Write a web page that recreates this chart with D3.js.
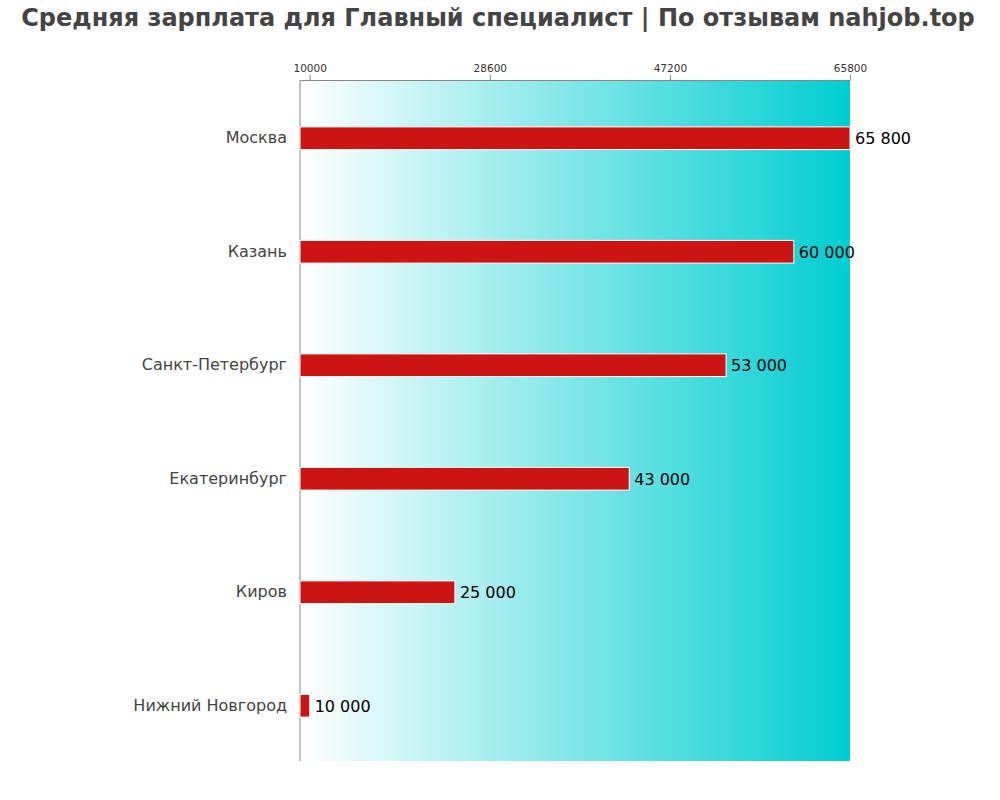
<!DOCTYPE html>
<html><head><meta charset="utf-8">
<script src="https://cdn.jsdelivr.net/npm/d3@7"></script>
<style>body{margin:0;background:#fff;} svg text{font-family:"DejaVu Sans";}</style>
</head><body>
<svg id="c" width="1000" height="800"></svg>
<script>
const title = "Средняя зарплата для Главный специалист | По отзывам nahjob.top";
const categories = ["Москва","Казань","Санкт-Петербург","Екатеринбург","Киров","Нижний Новгород"];
const values = [65800,60000,53000,43000,25000,10000];
const tickValues = [10000,28600,47200,65800];

const svg = d3.select("#c");
const pLeft=300, pRight=850, pTop=80, pBottom=761;
const x = d3.scaleLinear().domain([9000,65800]).range([pLeft,pRight]);
const y = d3.scaleBand().domain(categories).range([pTop+1.5,pBottom+1.5]).paddingInner(0.8).paddingOuter(0.4);

const defs = svg.append("defs");
const g = defs.append("linearGradient").attr("id","bg").attr("x1","0").attr("x2","1").attr("y1","0").attr("y2","0");
g.append("stop").attr("offset","0").attr("stop-color","#ffffff");
g.append("stop").attr("offset","1").attr("stop-color","#00ced1");

svg.append("rect").attr("x",pLeft).attr("y",pTop).attr("width",pRight-pLeft).attr("height",pBottom-pTop).attr("fill","url(#bg)");

svg.append("text").attr("x",498).attr("y",26).attr("text-anchor","middle")
  .attr("font-size",24).attr("font-weight","bold").attr("fill","#444").text(title);

const ax = svg.append("g").attr("transform",`translate(0,${pTop})`)
  .call(d3.axisTop(x).tickValues(tickValues).tickFormat(d3.format("d")).tickSize(5).tickSizeOuter(0));
ax.attr("font-family",null);
ax.select(".domain").attr("stroke","#888");
ax.selectAll(".tick line").attr("stroke","#888");
ax.selectAll(".tick text").attr("font-size",10.5).attr("fill","#333");

svg.append("line").attr("x1",pLeft).attr("x2",pLeft).attr("y1",pTop).attr("y2",pBottom).attr("stroke","#888");

svg.selectAll("rect.bar").data(values).join("rect").attr("class","bar")
  .attr("x",x(9000)).attr("y",(d,i)=>y(categories[i]))
  .attr("width",d=>x(d)-x(9000)).attr("height",y.bandwidth())
  .attr("fill","#cc1414").attr("stroke","#fff").attr("stroke-width",1);

svg.selectAll("text.val").data(values).join("text").attr("class","val")
  .attr("x",d=>x(d)+5).attr("y",(d,i)=>y(categories[i])+y.bandwidth()/2+6)
  .attr("font-size",16).attr("fill","#000").text(d=>d3.format(",")(d).replace(/,/g," "));

svg.selectAll("text.cat").data(categories).join("text").attr("class","cat")
  .attr("x",287).attr("y",d=>y(d)+y.bandwidth()/2+5)
  .attr("text-anchor","end").attr("font-size",16).attr("fill","#444").text(d=>d);
</script>
</body></html>
